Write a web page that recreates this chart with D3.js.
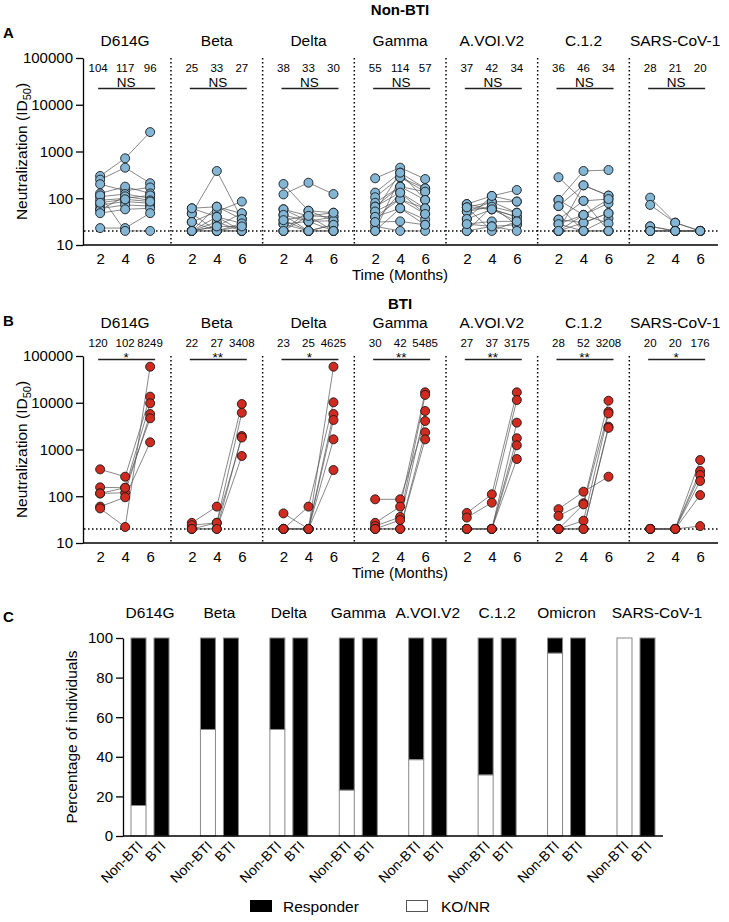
<!DOCTYPE html>
<html>
<head>
<meta charset="utf-8">
<script src="https://cdnjs.cloudflare.com/ajax/libs/d3/7.8.5/d3.min.js"></script>
<style>
  body { margin: 0; background: #fff; }
  svg { font-family: "Liberation Sans", Arial, sans-serif; }
</style>
</head>
<body>
<svg id="fig" width="729" height="922"></svg>
<script>
// ---- data ----
var timepoints = [2, 4, 6];
var variantsAB = ["D614G", "Beta", "Delta", "Gamma", "A.VOI.V2", "C.1.2", "SARS-CoV-1"];
var variantsC = ["D614G", "Beta", "Delta", "Gamma", "A.VOI.V2", "C.1.2", "Omicron", "SARS-CoV-1"];

// panel A, one row per individual: ID50 at month 2, 4, 6
var nonBtiD614G = [[300,715,2600],[250,450,210],[200,145,170],[127,177,127],[108,123,100],[90,100,115],[72,85,78],[60,72,68],[56,110,90],[48,58,61],[23,23,48],[115,20,20],[80,95,85]];
var nonBtiBeta = [[61,66,47],[47,383,36],[31,52,85],[20,40,29],[20,31,20],[20,25,48],[20,20,20],[47,20,25],[20,66,36],[31,20,20],[20,20,29],[61,40,20],[20,25,25]];
var nonBtiDelta = [[202,54,49],[121,215,123],[58,42,40],[44,32,33],[34,20,27],[28,20,20],[20,42,20],[58,32,40],[20,54,33],[44,20,27],[28,32,20],[20,20,20],[34,42,49]];
var nonBtiGamma = [[267,451,258],[132,352,163],[105,281,138],[80,177,92],[66,132,61],[52,95,46],[40,61,35],[31,32,27],[25,20,20],[20,281,163],[66,177,138],[52,352,92],[40,95,61],[31,132,46],[20,61,27]];
var nonBtiAVOI = [[75,112,150],[64,84,85],[52,66,49],[36,58,40],[28,32,32],[20,25,27],[75,58,40],[64,20,32],[52,84,49],[20,66,27],[36,112,85],[28,25,20],[64,58,32]];
var nonBtiC12 = [[281,88,20],[92,383,402],[68,189,114],[35,88,96],[28,44,78],[20,30,48],[20,20,37],[92,44,29],[68,20,20],[20,189,114],[35,30,48],[28,20,20],[20,44,96]];
var nonBtiSars1 = [[103,30,20],[72,30,20],[25,20,20],[20,20,20],[20,20,20],[25,20,20],[20,20,20],[20,20,20]];

// panel B
var btiD614G = [[376,262,13500],[155,152,9730],[115,119,5740],[60,95,1426],[55,22,59000],[115,152,4650]];
var btiBeta = [[27,60,9400],[24,27,6120],[20,20,1944],[20,27,1800],[20,20,726]];
var btiDelta = [[43,20,59000],[20,60,10200],[20,20,5740],[20,20,4280],[20,20,1650],[20,20,364]];
var btiGamma = [[86,86,4070],[27,60,16700],[23,36,14700],[20,31,6670],[20,20,2330],[20,20,1650]];
var btiAVOI = [[44,110,16700],[35,73,11450],[20,20,3750],[20,20,1740],[20,20,1230],[20,20,627]];
var btiC12 = [[53,125,262],[38,71,11070],[20,67,6440],[20,30,5900],[20,20,3075],[20,20,2900]];
var btiSars1 = [[20,20,596],[20,20,347],[20,20,285],[20,20,212],[20,20,106],[20,20,23]];

var gmtNonBti = [[104,117,96],[25,33,27],[38,33,30],[55,114,57],[37,42,34],[36,46,34],[28,21,20]];
var gmtBti = [[120,102,8249],[22,27,3408],[23,25,4625],[30,42,5485],[27,37,3175],[28,52,3208],[20,20,176]];
var sigNonBti = ["NS","NS","NS","NS","NS","NS","NS"];
var sigBti = ["*","**","*","**","**","**","*"];

// panel C, % KO/NR (rest are responders)
var koNonBti = [15.4, 53.8, 53.8, 23.1, 38.5, 30.8, 92.3, 100];
var koBti = [0, 0, 0, 0, 0, 0, 0, 0];

var yTicks = [10, 100, 1000, 10000, 100000];
var pctTicks = [0, 20, 40, 60, 80, 100];

var svg = d3.select("#fig");

// shared x layout for panels A and B
var xGroup = d3.scaleBand().domain(variantsAB).range([79.3, 721]);
var xTime = d3.scaleLinear().domain([2, 6]).range([-25, 25]);
function cx(v) { return xGroup(v) + xGroup.bandwidth() / 2; }

function drawTimePanel(opts) {
  var y = d3.scaleLog().domain([10, 100000]).range([opts.bottom, opts.top]);
  var g = svg.append("g");

  // panel title + letter
  g.append("text").attr("x", 400).attr("y", opts.titleY).attr("text-anchor", "middle")
    .attr("font-size", 15).attr("font-weight", "bold").text(opts.title);
  g.append("text").attr("x", 3).attr("y", opts.letterY)
    .attr("font-size", 15).attr("font-weight", "bold").text(opts.letter);

  // y axis
  var ya = g.append("g").attr("transform", "translate(83,0)")
    .call(d3.axisLeft(y).tickValues(yTicks).tickFormat(d3.format("d")).tickSize(7).tickSizeOuter(0));
  ya.selectAll("text").attr("font-size", 15).attr("font-family", "Liberation Sans, Arial, sans-serif").attr("fill", "#000");
  ya.selectAll("line, path").attr("stroke", "#000").attr("stroke-width", 1.3);

  var yl = g.append("text")
    .attr("transform", "translate(27," + ((opts.top + opts.bottom) / 2) + ") rotate(-90)")
    .attr("text-anchor", "middle").attr("font-size", 15.5);
  yl.append("tspan").text("Neutralization (ID");
  yl.append("tspan").attr("dy", 4).attr("font-size", 11).text("50");
  yl.append("tspan").attr("dy", -4).text(")");

  // x axis line
  g.append("line").attr("x1", 83).attr("x2", 718).attr("y1", y(10)).attr("y2", y(10))
    .attr("stroke", "#000").attr("stroke-width", 1.3);

  // group separators
  variantsAB.slice(1).forEach(function (v) {
    g.append("line").attr("x1", xGroup(v)).attr("x2", xGroup(v))
      .attr("y1", y(100000)).attr("y2", y(10))
      .attr("stroke", "#000").attr("stroke-width", 1.5).attr("stroke-dasharray", "1.5,2.5");
  });

  // limit of detection
  g.append("line").attr("x1", 84).attr("x2", 718).attr("y1", y(20)).attr("y2", y(20))
    .attr("stroke", "#000").attr("stroke-width", 1.6).attr("stroke-dasharray", "1.5,2.5");

  g.append("text").attr("x", 400).attr("y", opts.bottom + 35).attr("text-anchor", "middle")
    .attr("font-size", 15).text("Time (Months)");

  variantsAB.forEach(function (v, i) {
    var c = cx(v);
    var sub = d3.scaleLinear().domain([2, 6]).range([c + xTime(2), c + xTime(6)]);

    var xa = g.append("g").attr("transform", "translate(0," + y(10) + ")")
      .call(d3.axisBottom(sub).tickValues(timepoints).tickFormat(d3.format("d")).tickSize(0).tickPadding(8));
    xa.select(".domain").remove();
    xa.selectAll("text").attr("font-size", 15).attr("font-family", "Liberation Sans, Arial, sans-serif").attr("fill", "#000");

    g.append("text").attr("x", c).attr("y", opts.nameY).attr("text-anchor", "middle")
      .attr("font-size", 15.5).text(v);

    opts.gmt[i].forEach(function (n, j) {
      g.append("text").attr("x", sub(timepoints[j]) + (j === 0 && n > 99 ? -2 : 0)).attr("y", opts.countY)
        .attr("text-anchor", "middle").attr("font-size", 11.5).text(n);
    });

    g.append("line").attr("x1", sub(2) - 2).attr("x2", sub(6) + 5)
      .attr("y1", opts.sigLineY).attr("y2", opts.sigLineY)
      .attr("stroke", "#222").attr("stroke-width", 1.3);
    g.append("text").attr("x", (sub(2) + sub(6)) / 2 + 1).attr("y", opts.sigTextY)
      .attr("text-anchor", "middle").attr("font-size", opts.sigSize).text(opts.sig[i]);

    var line = d3.line()
      .x(function (d, j) { return sub(timepoints[j]); })
      .y(function (d) { return y(d); });

    g.append("g").selectAll("path").data(opts.data[i]).enter().append("path")
      .attr("d", line).attr("fill", "none").attr("stroke", "#555").attr("stroke-width", 0.7);

    var pts = [];
    opts.data[i].forEach(function (row) {
      row.forEach(function (val, j) { pts.push({t: timepoints[j], v: val}); });
    });
    g.append("g").selectAll("circle").data(pts).enter().append("circle")
      .attr("cx", function (d) { return sub(d.t); })
      .attr("cy", function (d) { return y(d.v); })
      .attr("r", 4.5)
      .attr("fill", opts.fill).attr("stroke", "#1a1a1a").attr("stroke-width", 0.9);
  });
}

drawTimePanel({
  title: "Non-BTI", titleY: 15, letter: "A", letterY: 38,
  top: 58, bottom: 245, nameY: 45.5, countY: 72,
  data: [nonBtiD614G, nonBtiBeta, nonBtiDelta, nonBtiGamma, nonBtiAVOI, nonBtiC12, nonBtiSars1],
  gmt: gmtNonBti, sig: sigNonBti, sigLineY: 88.5, sigTextY: 86.5, sigSize: 13.5,
  fill: "#83b5d4"
});

drawTimePanel({
  title: "BTI", titleY: 309, letter: "B", letterY: 326,
  top: 356, bottom: 543, nameY: 327.5, countY: 346.5,
  data: [btiD614G, btiBeta, btiDelta, btiGamma, btiAVOI, btiC12, btiSars1],
  gmt: gmtBti, sig: sigBti, sigLineY: 359.5, sigTextY: 362, sigSize: 13.5,
  fill: "#d12a1e"
});

// ---- panel C: stacked percentage bars ----
var gc = svg.append("g");
var xC = d3.scaleBand().domain(variantsC).range([115.3, 670.7]);
var xIn = d3.scaleBand().domain(["Non-BTI", "BTI"]).range([-19, 19]).paddingInner(0.348);
var yC = d3.scaleLinear().domain([0, 100]).range([836, 638]);

gc.append("text").attr("x", 3).attr("y", 622).attr("font-size", 15).attr("font-weight", "bold").text("C");

var yca = gc.append("g").attr("transform", "translate(123,0)")
  .call(d3.axisLeft(yC).tickValues(pctTicks).tickSize(7).tickSizeOuter(0));
yca.selectAll("text").attr("font-size", 15).attr("font-family", "Liberation Sans, Arial, sans-serif").attr("fill", "#000");
yca.selectAll("line, path").attr("stroke", "#000").attr("stroke-width", 1.3);

gc.append("text").attr("transform", "translate(77,737) rotate(-90)").attr("text-anchor", "middle")
  .attr("font-size", 15.5).text("Percentage of individuals");

var barRows = [];
variantsC.forEach(function (v, i) {
  barRows.push({v: v, cond: "Non-BTI", ko: koNonBti[i]});
  barRows.push({v: v, cond: "BTI", ko: koBti[i]});
});

function barX(d) { return xC(d.v) + xC.bandwidth() / 2 + xIn(d.cond); }

// responder part (black) on top
gc.append("g").selectAll("rect").data(barRows.filter(function (d) { return d.ko < 100; })).enter().append("rect")
  .attr("x", barX).attr("width", xIn.bandwidth())
  .attr("y", yC(100)).attr("height", function (d) { return yC(d.ko) - yC(100); })
  .attr("fill", "#000").attr("stroke", "#888").attr("stroke-width", 1);
// KO/NR part (white) at bottom
gc.append("g").selectAll("rect").data(barRows.filter(function (d) { return d.ko > 0; })).enter().append("rect")
  .attr("x", barX).attr("width", xIn.bandwidth())
  .attr("y", function (d) { return yC(d.ko); }).attr("height", function (d) { return yC(0) - yC(d.ko); })
  .attr("fill", "#fff").attr("stroke", "#888").attr("stroke-width", 1);

gc.append("line").attr("x1", 123).attr("x2", 663).attr("y1", yC(0)).attr("y2", yC(0))
  .attr("stroke", "#000").attr("stroke-width", 1.3);

variantsC.forEach(function (v, i) {
  var shift = v === "SARS-CoV-1" ? 21 : 0;
  gc.append("text").attr("x", xC(v) + xC.bandwidth() / 2 + shift).attr("y", 618).attr("text-anchor", "middle")
    .attr("font-size", 15.5).text(v);
});

gc.append("g").selectAll("text").data(barRows).enter().append("text")
  .attr("transform", function (d) {
    return "translate(" + (barX(d) + xIn.bandwidth() / 2 + 5) + ",847) rotate(-45)";
  })
  .attr("text-anchor", "end").attr("font-size", 14).text(function (d) { return d.cond; });

// legend
var leg = gc.append("g").attr("transform", "translate(0,912)");
leg.append("rect").attr("x", 250).attr("y", -12).attr("width", 22).attr("height", 12).attr("fill", "#000");
leg.append("text").attr("x", 283).attr("y", 0).attr("font-size", 15.5).text("Responder");
leg.append("rect").attr("x", 406.5).attr("y", -11.5).attr("width", 21).attr("height", 11).attr("fill", "#fff")
  .attr("stroke", "#555").attr("stroke-width", 1);
leg.append("text").attr("x", 441).attr("y", 0).attr("font-size", 15.5).text("KO/NR");
</script>
</body>
</html>
